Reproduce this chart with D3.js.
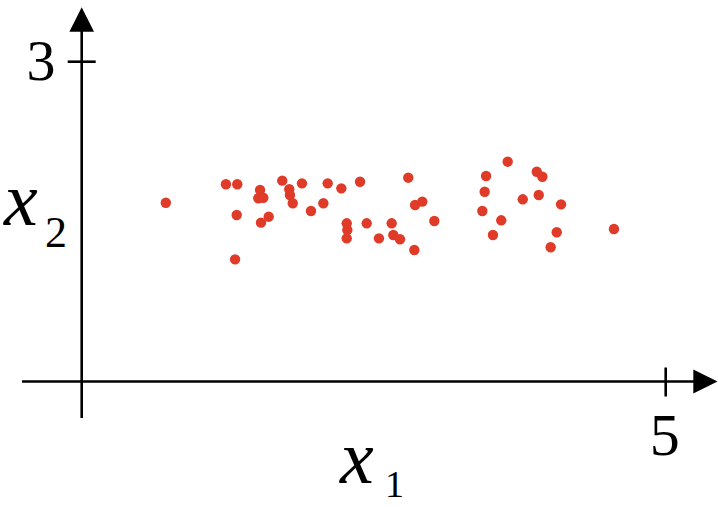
<!DOCTYPE html>
<html>
<head>
<meta charset="utf-8">
<script src="https://cdn.jsdelivr.net/npm/d3@7"></script>
<style>
  html, body { margin: 0; padding: 0; background: #fff; }
  svg { display: block; }
</style>
</head>
<body>
<svg id="chart" width="718" height="507"></svg>
<script>
// Data (x1, x2)
const x1Values = [0.72, 1.235, 1.332, 1.527, 1.512, 1.555, 1.717, 1.777, 1.783, 1.807, 1.886,
  1.327, 1.535, 1.601, 1.963, 2.069, 2.106, 2.223, 2.383, 2.269, 2.274, 2.269, 1.313,
  2.796, 2.854, 2.916, 2.44, 2.545, 2.654, 2.668, 2.725, 2.848, 3.019,
  3.462, 3.45, 3.43, 3.647, 3.896, 3.944, 3.776, 3.913, 4.104, 3.592, 3.521, 4.067, 4.015, 4.557];
const x2Values = [1.677, 1.85, 1.85, 1.796, 1.719, 1.724, 1.884, 1.803, 1.75, 1.672, 1.859,
  1.562, 1.49, 1.546, 1.599, 1.672, 1.859, 1.812, 1.874, 1.484, 1.421, 1.343, 1.146,
  1.912, 1.656, 1.687, 1.484, 1.343, 1.484, 1.374, 1.334, 1.234, 1.506,
  1.928, 1.78, 1.599, 2.062, 1.968, 1.921, 1.709, 1.75, 1.662, 1.512, 1.374, 1.4, 1.259, 1.431];
const xTickValues = [5];
const yTickValues = [3];

const svg = d3.select("#chart");
const x = d3.scaleLinear().domain([0, 5]).range([81.7, 665.7]);
const y = d3.scaleLinear().domain([0, 3]).range([381.5, 61.7]);

const ox = x(0), oy = y(0);
const axisColor = "#000";

// x axis line
svg.append("line").attr("x1", 22).attr("x2", 700).attr("y1", oy).attr("y2", oy)
  .attr("stroke", axisColor).attr("stroke-width", 2.6);
// y axis line
svg.append("line").attr("x1", ox).attr("x2", ox).attr("y1", 418).attr("y2", 25)
  .attr("stroke", axisColor).attr("stroke-width", 2.6);

// arrows
svg.append("path").attr("d", `M717.5,${oy} L693.3,${oy-12} L693.3,${oy+12} Z`).attr("fill", axisColor);
svg.append("path").attr("d", `M${ox},7.3 L${ox-12.3},31.7 L${ox+12.3},31.7 Z`).attr("fill", axisColor);

// ticks
xTickValues.forEach(v => {
  svg.append("line").attr("x1", x(v)).attr("x2", x(v)).attr("y1", oy - 14).attr("y2", oy + 15)
    .attr("stroke", axisColor).attr("stroke-width", 2.6);
  svg.append("text").attr("x", x(v) - 1).attr("y", 455).attr("text-anchor", "middle")
    .attr("font-family", "Liberation Serif, serif").attr("font-size", 60).text(String(v));
});
yTickValues.forEach(v => {
  svg.append("line").attr("x1", ox - 14).attr("x2", ox + 14).attr("y1", y(v)).attr("y2", y(v))
    .attr("stroke", axisColor).attr("stroke-width", 2.6);
  svg.append("text").attr("x", 41).attr("y", 80).attr("text-anchor", "middle")
    .attr("font-family", "Liberation Serif, serif").attr("font-size", 58).text(String(v));
});

// axis titles
const t1 = svg.append("text").attr("font-family", "Liberation Serif, serif");
t1.append("tspan").attr("x", 340).attr("y", 483).attr("font-style", "italic").attr("font-size", 76).text("x");
t1.append("tspan").attr("x", 385).attr("y", 497).attr("font-size", 38).text("1");

const t2 = svg.append("text").attr("font-family", "Liberation Serif, serif");
t2.append("tspan").attr("x", 4).attr("y", 225).attr("font-style", "italic").attr("font-size", 76).text("x");
t2.append("tspan").attr("x", 45).attr("y", 247).attr("font-size", 44).text("2");

// points
const pts = x1Values.map((v, i) => ({ a: v, b: x2Values[i] }));
svg.append("g").selectAll("circle").data(pts).join("circle")
  .attr("cx", d => x(d.a)).attr("cy", d => y(d.b)).attr("r", 5.2)
  .attr("fill", "#e03a28");
</script>
</body>
</html>
